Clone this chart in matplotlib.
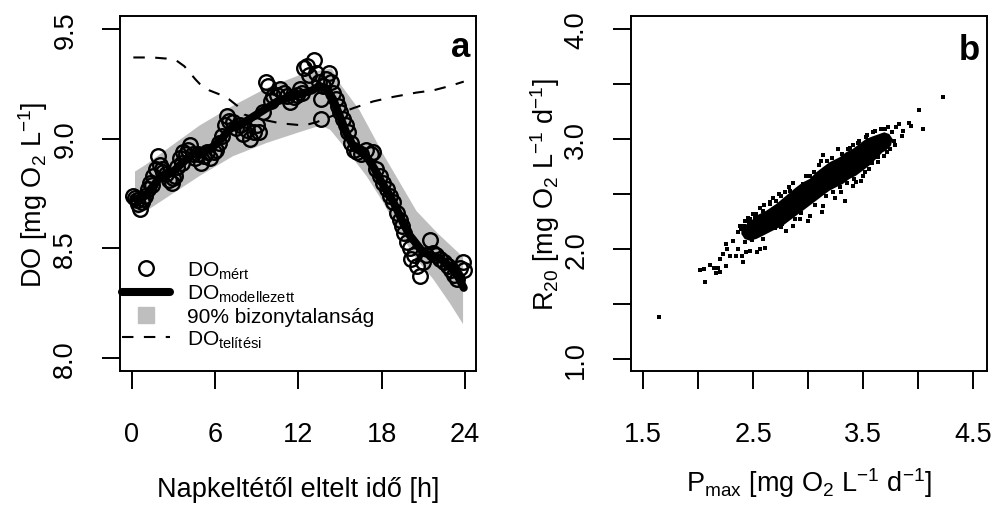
import numpy as np
import matplotlib
matplotlib.use("Agg")
import matplotlib.pyplot as plt
from matplotlib.lines import Line2D
from matplotlib.ticker import FixedLocator, FixedFormatter

# ---- panel a: diel DO curve ----
t_obs = [0.13, 0.25, 0.37, 0.5, 0.61, 0.75, 0.85, 1.0, 1.2, 1.33, 1.45, 1.57, 1.75,
         1.93, 2.05, 2.2, 2.29, 2.5, 2.7, 2.89, 3.0, 3.13, 3.3, 3.49, 3.6, 3.73,
         3.9, 4.05, 4.2, 4.4, 4.6, 4.8, 5.0, 5.2, 5.4, 5.65, 5.9, 6.1, 6.3, 6.5,
         6.7, 6.85, 7.0, 7.3, 7.55, 7.8, 8.05, 8.3, 8.5, 8.8, 9.0, 9.2, 9.45, 9.7,
         9.85, 10.0, 10.2, 10.45, 10.7, 10.95, 11.2, 11.4, 11.7, 11.9, 12.1, 12.25,
         12.4, 12.6, 12.8, 13.1, 13.3, 13.45, 13.6, 13.62, 13.8, 14.0, 14.2, 14.35,
         14.5, 14.7, 14.85, 15.0, 15.2, 15.4, 15.6, 15.8, 15.97, 16.2, 16.5, 16.9,
         17.2, 17.4, 17.6, 17.9, 18.1, 18.4, 18.6, 18.8, 19.1, 19.3, 19.45, 19.6,
         19.8, 20.0, 20.1, 20.3, 20.5, 20.75, 21.0, 21.2, 21.5, 21.7, 21.9, 22.2,
         22.5, 22.8, 23.0, 23.2, 23.4, 23.6, 23.87, 23.95]
do_obs = [8.74, 8.73, 8.72, 8.70, 8.68, 8.71, 8.725, 8.74, 8.77, 8.80, 8.79, 8.83, 8.86,
          8.92, 8.88, 8.86, 8.85, 8.84, 8.81, 8.80, 8.82, 8.83, 8.87, 8.91, 8.89, 8.94,
          8.93, 8.95, 8.97, 8.93, 8.91, 8.93, 8.89, 8.92, 8.94, 8.91, 8.94, 8.95, 8.98, 9.01,
          9.06, 9.105, 9.08, 9.075, 9.05, 9.06, 9.02, 9.04, 9.00, 9.03, 9.06, 9.03, 9.12, 9.257,
          9.24, 9.17, 9.196, 9.20, 9.227, 9.21, 9.196, 9.166, 9.19, 9.20, 9.227, 9.21,
          9.32, 9.33, 9.29, 9.36, 9.30, 9.26, 9.18, 9.09, 9.24, 9.27, 9.30, 9.26,
          9.21, 9.18, 9.15, 9.12, 9.09, 9.06, 9.03, 8.98, 8.95, 8.94, 8.93, 8.95,
          8.93, 8.94, 8.86, 8.83, 8.80, 8.77, 8.74, 8.71, 8.66, 8.63, 8.60, 8.57,
          8.53, 8.50, 8.45, 8.47, 8.42, 8.375, 8.44, 8.47, 8.54, 8.48, 8.47, 8.45,
          8.44, 8.42, 8.40, 8.38, 8.36, 8.41, 8.436, 8.40]

t_mod = [0.15, 0.5, 1.0, 1.5, 2.0, 2.5, 3.0, 3.5, 4.0, 4.5, 5.0, 5.5, 6.0, 6.5, 7.0,
         7.5, 8.0, 8.5, 9.0, 9.5, 10.0, 10.5, 11.0, 11.5, 12.0, 12.5, 13.0, 13.5,
         14.0, 14.5, 15.0, 15.5, 16.0, 16.5, 17.0, 17.5, 18.0, 18.5, 19.0, 19.5,
         20.0, 20.5, 21.0, 21.5, 22.0, 22.5, 23.0, 23.5, 23.9]
do_mod = [8.73, 8.72, 8.74, 8.78, 8.82, 8.84, 8.85, 8.88, 8.91, 8.93, 8.94, 8.95,
          8.97, 9.00, 9.04, 9.06, 9.07, 9.09, 9.11, 9.13, 9.15, 9.17, 9.18, 9.19,
          9.20, 9.21, 9.22, 9.24, 9.23, 9.18, 9.10, 9.02, 8.96, 8.94, 8.91, 8.86,
          8.80, 8.75, 8.69, 8.62, 8.56, 8.52, 8.48, 8.47, 8.46, 8.44, 8.41, 8.37, 8.32]

t_up = [0.25, 1.0, 2.5, 4.9, 7.3, 9.7, 12.1, 13.5, 14.4, 15.0, 16.4, 18.1, 20.5, 22.0, 23.85]
do_up = [8.85, 8.88, 8.95, 9.06, 9.15, 9.23, 9.29, 9.31, 9.32, 9.25, 9.13, 8.93, 8.67, 8.57, 8.46]
t_lo = [0.25, 1.3, 2.5, 4.9, 7.3, 9.7, 12.1, 13.6, 14.3, 15.2, 16.9, 18.1, 19.3, 20.5, 21.7, 22.9, 23.85]
do_lo = [8.65, 8.68, 8.73, 8.83, 8.92, 8.98, 9.03, 9.06, 9.04, 8.97, 8.83, 8.71, 8.57, 8.45, 8.36, 8.25, 8.155]

t_sat = [0.13, 1.5, 2.5, 3.25, 3.8, 4.2, 4.6, 4.9, 5.6, 6.4, 7.0, 7.6, 8.1, 9.2, 10.7,
         12.4, 13.3, 14.5, 16.0, 17.4, 18.8, 20.5, 21.7, 22.9, 23.9]
do_sat = [9.37, 9.37, 9.365, 9.355, 9.33, 9.30, 9.27, 9.25, 9.22, 9.20, 9.18, 9.15, 9.11,
          9.09, 9.07, 9.06, 9.075, 9.105, 9.14, 9.17, 9.19, 9.21, 9.22, 9.24, 9.26]

# ---- panel b: Pmax vs R20 posterior draws ----
# outline of the saturated (solid black) core of the cloud
core_p = [2.394, 2.470, 2.530, 2.621, 2.711, 2.802, 2.893, 2.953, 3.014, 3.074, 3.134,
          3.195, 3.286, 3.346, 3.406, 3.467, 3.527, 3.588, 3.648, 3.693, 3.739, 3.769,
          3.754, 3.708, 3.678, 3.618, 3.557, 3.497, 3.437, 3.376, 3.316, 3.255, 3.195,
          3.134, 3.074, 3.014, 2.953, 2.893, 2.832, 2.772, 2.711, 2.651, 2.591, 2.530,
          2.470, 2.424, 2.394]
core_r = [2.197, 2.242, 2.303, 2.348, 2.409, 2.485, 2.561, 2.606, 2.636, 2.697, 2.742,
          2.788, 2.833, 2.879, 2.909, 2.955, 3.000, 3.024, 3.045, 3.061, 3.045, 3.000,
          2.939, 2.894, 2.879, 2.818, 2.758, 2.712, 2.667, 2.636, 2.591, 2.561, 2.530,
          2.485, 2.439, 2.394, 2.348, 2.303, 2.258, 2.212, 2.182, 2.152, 2.121, 2.091,
          2.076, 2.091, 2.136]
# scattered draws around the core
pts_p = [1.645, 2.068, 2.017, 2.053, 2.107, 2.144, 2.183, 2.168, 2.204, 2.258, 2.198,
         2.228, 2.264, 2.252, 2.289, 2.319, 2.349, 2.364, 2.403, 2.409, 2.440, 2.394,
         2.415, 2.464, 2.470, 2.539, 2.560, 2.612, 2.591, 2.515, 2.651, 2.826, 2.787,
         2.711, 2.802, 2.757, 2.863, 2.923, 2.998, 3.014, 3.125, 3.134, 3.249, 3.337,
         3.301, 3.406, 3.437, 3.482, 3.497, 3.557, 3.633, 3.693, 3.678, 3.748, 3.793,
         3.799, 3.823, 3.851, 3.860, 3.935, 3.920, 4.047, 4.011, 4.231, 3.134, 3.171,
         3.119, 3.270, 3.360, 3.406, 3.014, 2.953, 2.832, 2.757, 2.651, 2.591, 2.530,
         2.470, 3.588, 3.663, 3.724, 3.527, 3.467,
         2.360, 2.380, 2.430, 2.450, 2.500, 2.560, 2.600, 2.680, 2.740, 2.860, 2.980,
         3.050, 3.100, 3.220, 3.310, 3.380, 3.450, 3.540, 3.610, 3.700, 3.760, 3.780,
         2.430, 2.490, 2.560, 2.640, 2.700, 2.760, 2.880, 2.940, 3.060, 3.160, 3.230,
         3.290, 3.350, 3.420, 3.520, 3.580, 3.640, 3.720]
pts_r = [1.385, 1.703, 1.812, 1.818, 1.855, 1.830, 1.824, 1.779, 1.788, 1.845, 1.909,
         1.955, 2.000, 2.042, 1.933, 2.076, 1.933, 2.000, 1.933, 1.879, 1.970, 2.182,
         2.206, 2.242, 1.985, 1.970, 2.000, 2.012, 2.091, 2.294, 2.409, 2.561, 2.515,
         2.439, 2.167, 2.197, 2.212, 2.273, 2.258, 2.303, 2.333, 2.394, 2.461, 2.439,
         2.515, 2.576, 2.606, 2.621, 2.667, 2.727, 2.794, 2.848, 2.939, 2.909, 2.945,
         3.106, 3.136, 3.030, 3.076, 3.121, 3.145, 3.094, 3.267, 3.385, 2.855, 2.803,
         2.803, 2.909, 2.909, 2.945, 2.667, 2.591, 2.530, 2.485, 2.424, 2.348, 2.318,
         2.273, 3.061, 3.091, 3.106, 3.015, 2.985,
         2.150, 2.210, 2.250, 2.280, 2.320, 2.370, 2.400, 2.460, 2.500, 2.600, 2.660,
         2.700, 2.760, 2.830, 2.860, 2.920, 2.960, 3.040, 3.070, 3.090, 3.060, 2.980,
         2.060, 2.080, 2.150, 2.170, 2.190, 2.230, 2.270, 2.330, 2.400, 2.480, 2.520,
         2.560, 2.600, 2.640, 2.700, 2.780, 2.840, 2.880]

GRAY = "#BEBEBE"
FS = 19.5

plt.rcParams.update({
    "font.family": ["Liberation Sans", "DejaVu Sans"],
    "font.size": FS,
    "mathtext.fontset": "custom",
    "mathtext.rm": "Liberation Sans",
    "mathtext.it": "Liberation Sans:italic",
    "mathtext.bf": "Liberation Sans:bold",
    "axes.linewidth": 1.4,
})

W, H = 995, 506
fig = plt.figure(figsize=(W / 100, H / 100), dpi=100)


def px_axes(l, t, r, b):
    return fig.add_axes([l / W, 1 - b / H, (r - l) / W, (b - t) / H])


def style(ax, xt, xl, yt, yl):
    ax.xaxis.set_major_locator(FixedLocator(xt))
    ax.xaxis.set_major_formatter(FixedFormatter(xl))
    ax.yaxis.set_major_locator(FixedLocator(yt))
    ax.yaxis.set_major_formatter(FixedFormatter(yl))
    ax.tick_params(direction="out", length=13, width=1.4, labelsize=FS)
    ax.tick_params(axis="x", pad=23)
    ax.tick_params(axis="y", pad=17)
    for lab in ax.get_yticklabels():
        lab.set_rotation(90)
        lab.set_va("center")


# panel a
axa = px_axes(120, 17, 476, 372)
axa.fill(t_up + t_lo[::-1], do_up + do_lo[::-1], color=GRAY, lw=0, zorder=1)
axa.plot(t_sat, do_sat, color="k", lw=1.5, ls=(0, (5.5, 5)), zorder=2)
axa.plot(t_obs, do_obs, ls="none", marker="o", ms=10.5, mfc="none", mec="k", mew=1.7, zorder=3)
axa.plot(t_mod, do_mod, color="k", lw=5.8, solid_capstyle="round", zorder=4)
axa.set_xlim(-0.83, 24.78)
axa.set_ylim(7.941, 9.559)
style(axa, [0, 6, 12, 18, 24], ["0", "6", "12", "18", "24"],
      [8.0, 8.5, 9.0, 9.5], ["8.0", "8.5", "9.0", "9.5"])
axa.text(0.983, 0.887, "a", transform=axa.transAxes, ha="right", va="baseline",
         fontsize=25, fontweight="bold")

handles = [
    Line2D([], [], ls="none", marker="o", ms=10.5, mfc="none", mec="k", mew=1.7),
    Line2D([], [], color="k", lw=5.8, solid_capstyle="round"),
    Line2D([], [], ls="none", marker="s", ms=11, color=GRAY),
    Line2D([], [], color="k", lw=1.5, ls=(0, (5.5, 5))),
]
labels = [r"DO$_{\mathrm{mért}}$", r"DO$_{\mathrm{modellezett}}$",
          "90% bizonytalanság", r"DO$_{\mathrm{telítési}}$"]
axa.legend(handles, labels, loc="lower left", bbox_to_anchor=(0.005, 0.06),
           frameon=False, fontsize=15, handlelength=2.3, handletextpad=0.85,
           labelspacing=0.12, borderpad=0, borderaxespad=0)

# panel b
axb = px_axes(631, 17, 987, 372)
axb.fill(core_p, core_r, color="k", lw=0, zorder=2)
axb.plot(pts_p, pts_r, ls="none", marker="s", ms=3, color="k", mew=0, zorder=3)
axb.set_xlim(1.391, 4.627)
axb.set_ylim(0.891, 4.118)
style(axb, [1.5, 2.0, 2.5, 3.0, 3.5, 4.0, 4.5], ["1.5", "", "2.5", "", "3.5", "", "4.5"],
      [1.0, 1.5, 2.0, 2.5, 3.0, 3.5, 4.0], ["1.0", "", "2.0", "", "3.0", "", "4.0"])
axb.text(0.980, 0.879, "b", transform=axb.transAxes, ha="right", va="baseline",
         fontsize=25, fontweight="bold")

# axis titles
fig.text(298 / W, 1 - 497 / H, "Napkeltétől eltelt idő [h]", ha="center", va="baseline", fontsize=FS)
fig.text(809 / W, 1 - 492 / H, r"P$_{\mathrm{max}}$ [mg O$_2$ L$^{-1}$ d$^{-1}$]",
         ha="center", va="baseline", fontsize=FS)
fig.text(33 / W, 1 - 194.5 / H, r"DO [mg O$_2$ L$^{-1}$]", ha="center", va="center",
         rotation=90, fontsize=FS)
fig.text(545 / W, 1 - 194.5 / H, r"R$_{20}$ [mg O$_2$ L$^{-1}$ d$^{-1}$]", ha="center",
         va="center", rotation=90, fontsize=FS)

fig.savefig("out.png", dpi=100)
